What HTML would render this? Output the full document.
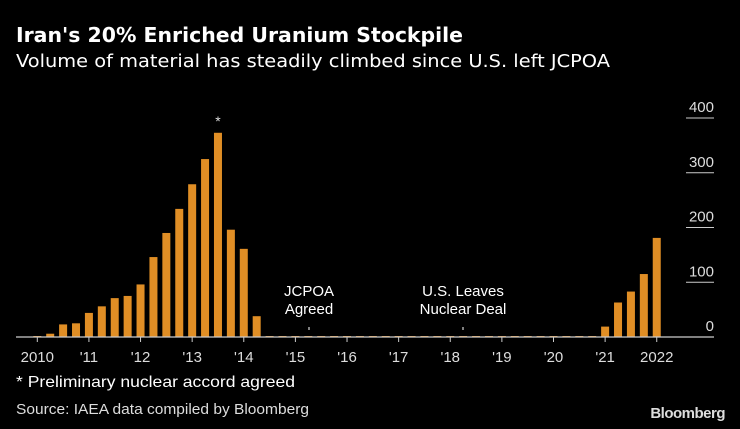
<!DOCTYPE html>
<html><head><meta charset="utf-8"><style>
html,body{margin:0;padding:0;background:#000;width:740px;height:429px;overflow:hidden}
svg{display:block;font-family:"Liberation Sans","DejaVu Sans",sans-serif}
</style></head><body>
<svg id="chart" width="740" height="429" viewBox="0 0 740 429">
<rect width="740" height="429" fill="#000"/>
<text x="16" y="42" fill="#fff" font-size="20" font-weight="bold" font-family="DejaVu Sans, sans-serif" textLength="447" lengthAdjust="spacingAndGlyphs">Iran's 20% Enriched Uranium Stockpile</text>
<text x="16" y="67" fill="#fff" font-size="18" font-family="DejaVu Sans, sans-serif" textLength="594" lengthAdjust="spacingAndGlyphs">Volume of material has steadily climbed since U.S. left JCPOA</text>
<g id="grid"></g>
<g id="bars"></g>
<g id="xaxis"></g>
<text x="218" y="126" fill="#ddd" font-size="14" text-anchor="middle">*</text>
<text x="309" y="296" fill="#fff" font-size="15" text-anchor="middle">JCPOA</text>
<text x="309" y="314" fill="#fff" font-size="15" text-anchor="middle">Agreed</text>
<line x1="309" x2="309" y1="327" y2="330" stroke="#fff"/>
<text x="463" y="296" fill="#fff" font-size="15" text-anchor="middle">U.S. Leaves</text>
<text x="463" y="314" fill="#fff" font-size="15" text-anchor="middle">Nuclear Deal</text>
<line x1="463" x2="463" y1="327" y2="330" stroke="#fff"/>
<text x="16" y="387" fill="#fff" font-size="16" textLength="279" lengthAdjust="spacingAndGlyphs">* Preliminary nuclear accord agreed</text>
<text x="16" y="414" fill="#ddd" font-size="15" textLength="293" lengthAdjust="spacingAndGlyphs">Source: IAEA data compiled by Bloomberg</text>
<text x="725" y="418" fill="#ddd" font-size="15" font-weight="bold" text-anchor="end" letter-spacing="-0.5">Bloomberg</text>
</svg>
<script>
const values=[0,6,23,25,44,56,71,75,96,146,190,234,279,325,373,196,161,38,0,0,0,0,0,0,0,0,0,0,0,0,0,0,0,0,0,0,0,0,0,0,0,0,0,0,19,63,83,115,181];
const yTicks=[0,100,200,300,400];
const xLabels=["2010","'11","'12","'13","'14","'15","'16","'17","'18","'19","'20","'21","2022"];
const NS="http://www.w3.org/2000/svg";
const x0=37.3,step=12.905,base=337,pxPer=0.5475;
const xq=i=>x0+i*step;
const y=v=>base-v*pxPer;
function mk(t,a,p){const e=document.createElementNS(NS,t);for(const k in a)e.setAttribute(k,a[k]);p.appendChild(e);return e;}
const grid=document.getElementById('grid'),bars=document.getElementById('bars'),xa=document.getElementById('xaxis');
yTicks.forEach(v=>{
  if(v>0){const l=mk('line',{x1:686,x2:714,y1:y(v),y2:y(v),stroke:'#ccc','stroke-width':1},grid);
  
  }
  const t=mk('text',{x:714,y:y(v)-6,fill:'#ddd','font-size':15,'text-anchor':'end'},grid);
  t.textContent=v;
  
  
});
values.forEach((v,i)=>{
  const h=Math.max(v*pxPer,1);
  const r=mk('rect',{x:xq(i)-4,y:base-h,width:8,height:h,fill:'#e08e25'},bars);
  
  
});
const ax=mk('line',{x1:16,x2:714,y1:base,y2:base,stroke:'#ccc','stroke-width':1.2},xa);


xLabels.forEach((s,k)=>{
  const xx=xq(k*4);
  mk('line',{x1:xx,x2:xx,y1:base,y2:base+5,stroke:'#ccc'},xa);
  const t=mk('text',{x:xx,y:base+25,fill:'#ddd','font-size':15,'text-anchor':'middle'},xa);
  t.textContent=s;
  
  
});
</script>
</body></html>
